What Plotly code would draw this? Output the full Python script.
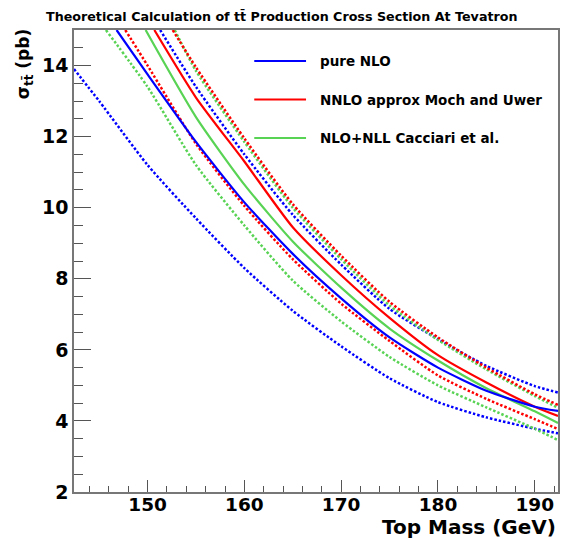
import plotly.graph_objects as go

# ---- data (top mass in GeV, cross section in pb) ----
nlo_x      = [146.8, 150, 155, 160, 165, 170, 175, 180, 185, 190, 192.4]
nlo        = [15.0, 13.75, 11.85, 10.15, 8.7, 7.45, 6.35, 5.5, 4.85, 4.4, 4.28]
nlo_hi_x   = [151.3, 155, 160, 165, 170, 175, 180, 185, 190, 192.4]
nlo_hi     = [15.0, 13.4, 11.5, 9.8, 8.4, 7.15, 6.3, 5.55, 4.98, 4.8]
nlo_lo_x   = [142.4, 145, 150, 155, 160, 165, 170, 175, 180, 185, 190, 192.4]
nlo_lo     = [13.9, 13.0, 11.2, 9.7, 8.3, 7.1, 6.1, 5.2, 4.53, 4.1, 3.78, 3.65]

nnlo_x     = [150.7, 155, 160, 165, 170, 175, 180, 185, 190, 192.4]
nnlo       = [15.0, 13.1, 11.3, 9.45, 8.1, 6.9, 5.85, 5.08, 4.4, 4.14]
nnlo_hi_x  = [152.6, 155, 160, 165, 170, 175, 180, 185, 190, 192.4]
nnlo_hi    = [15.0, 13.95, 11.95, 10.1, 8.65, 7.35, 6.35, 5.5, 4.75, 4.45]
nnlo_lo_x  = [147.7, 150, 155, 160, 165, 170, 175, 180, 185, 190, 192.4]
nnlo_lo    = [15.0, 14.0, 11.8, 10.05, 8.55, 7.3, 6.25, 5.28, 4.62, 4.05, 3.77]

nll_x      = [149.8, 155, 160, 165, 170, 175, 180, 185, 190, 192.4]
nll        = [15.0, 12.55, 10.65, 9.05, 7.75, 6.6, 5.7, 4.92, 4.27, 3.94]
nll_hi_x   = [152.8, 155, 160, 165, 170, 175, 180, 185, 190, 192.4]
nll_hi     = [15.0, 13.85, 11.85, 10.0, 8.55, 7.25, 6.28, 5.45, 4.7, 4.37]
nll_lo_x   = [145.7, 150, 155, 160, 165, 170, 175, 180, 185, 190, 192.4]
nll_lo     = [15.0, 13.4, 11.2, 9.5, 7.95, 6.8, 5.8, 5.0, 4.38, 3.78, 3.46]

labels = ["pure NLO", "NNLO approx Moch and Uwer", "NLO+NLL Cacciari et al."]
x_ticks = [150, 160, 170, 180, 190]
y_ticks = [2, 4, 6, 8, 10, 12, 14]

BLUE, RED, GREEN = "#0000ff", "#ff0000", "#59d354"
FONT = "DejaVu Sans"

fig = go.Figure()

def dotted(x, y, c):
    fig.add_trace(go.Scatter(x=x, y=y, mode="lines", showlegend=False,
                             line=dict(color=c, width=2.5, dash="2.5px,2px",
                                       shape="spline", smoothing=0.6)))

def solid(x, y, c, name):
    fig.add_trace(go.Scatter(x=x, y=y, mode="lines", name=name, showlegend=False,
                             line=dict(color=c, width=2.2, shape="spline", smoothing=0.6)))

dotted(nlo_lo_x, nlo_lo, BLUE)
dotted(nlo_hi_x, nlo_hi, BLUE)
dotted(nll_lo_x, nll_lo, GREEN)
dotted(nll_hi_x, nll_hi, GREEN)
dotted(nnlo_lo_x, nnlo_lo, RED)
dotted(nnlo_hi_x, nnlo_hi, RED)
solid(nll_x, nll, GREEN, labels[2])
solid(nnlo_x, nnlo, RED, labels[1])
solid(nlo_x, nlo, BLUE, labels[0])

L, R, T, B = 74, 6, 30, 47
W, H = 566, 539
pw, ph = W - L - R, H - T - B

def px2x(px):
    return (px - L) / pw

def py2y(py):
    return (H - B - py) / ph

# manual legend
for i, (lab, c) in enumerate(zip(labels, [BLUE, RED, GREEN])):
    yy = py2y(61 + i * 38.5)
    fig.add_shape(type="line", xref="paper", yref="paper",
                  x0=px2x(255), x1=px2x(307), y0=yy, y1=yy,
                  line=dict(color=c, width=2.2))
    fig.add_annotation(x=px2x(319), y=yy, xref="paper", yref="paper",
                       text="<b>%s</b>" % lab, showarrow=False,
                       xanchor="left", yanchor="middle",
                       font=dict(family=FONT, size=13.5, color="black"))

# title
fig.add_annotation(x=px2x(W / 2), y=py2y(17), xref="paper", yref="paper",
                   text="<b>Theoretical Calculation of tt\u0304 Production Cross Section At Tevatron</b>",
                   showarrow=False, xanchor="center", yanchor="middle",
                   font=dict(family=FONT, size=12.7, color="black"))
# x title
fig.add_annotation(x=1.0, y=py2y(527), xref="paper", yref="paper",
                   text="<b>Top Mass (GeV)</b>", showarrow=False,
                   xanchor="right", yanchor="middle",
                   font=dict(family=FONT, size=20, color="black"))
# y title
fig.add_annotation(x=px2x(25), y=py2y(27), xref="paper", yref="paper",
                   text="<b>\u03c3<sub>tt\u0304</sub> (pb)</b>", showarrow=False,
                   textangle=-90, xanchor="center", yanchor="top",
                   font=dict(family=FONT, size=17, color="black"))

axis_common = dict(showline=True, mirror=True, linecolor="#777", linewidth=1.5,
                   showgrid=False, zeroline=False, ticks="inside",
                   tickcolor="#555", tickwidth=1)

fig.update_xaxes(range=[142.4, 192.4], tickvals=x_ticks, ticklen=12,
                 ticklabelstandoff=-5,
                 tickfont=dict(family=FONT, size=18.5, color="black", weight="bold"),
                 minor=dict(dtick=2, tick0=150, ticks="inside", ticklen=6,
                            tickcolor="#555"),
                 **axis_common)
fig.update_yaxes(range=[2, 15], tickvals=y_ticks, ticklen=17,
                 tickfont=dict(family=FONT, size=19, color="black", weight="bold"),
                 minor=dict(dtick=0.5, tick0=2, ticks="inside", ticklen=9,
                            tickcolor="#555"),
                 **axis_common)

fig.update_layout(width=W, height=H, margin=dict(l=L, r=R, t=T, b=B),
                  plot_bgcolor="white", paper_bgcolor="white", showlegend=False)

fig.write_html("out.html")
